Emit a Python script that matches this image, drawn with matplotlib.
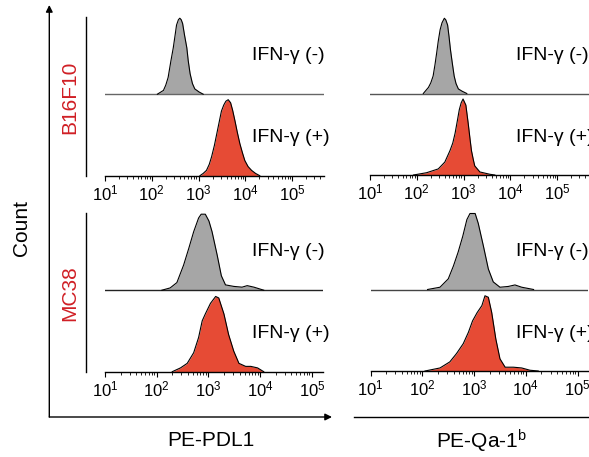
import numpy as np
import matplotlib.pyplot as plt
from matplotlib.lines import Line2D
from matplotlib.patches import FancyArrowPatch
from matplotlib.ticker import LogLocator, NullFormatter

plt.rcParams['font.family'] = ['Liberation Sans', 'DejaVu Sans']
plt.rcParams['mathtext.fontset'] = 'custom'
plt.rcParams['mathtext.rm'] = 'Liberation Sans'
plt.rcParams['mathtext.default'] = 'regular'

# histogram outlines: log10(intensity) and % of mode
b16_pdl1_neg_x = [2.12, 2.25, 2.30, 2.35, 2.41, 2.46, 2.50, 2.53, 2.57, 2.60, 2.63, 2.66,
                  2.70, 2.75, 2.78, 2.82, 2.87, 2.92, 3.01, 3.10]
b16_pdl1_neg_y = [0, 5, 12, 22, 44, 61, 78, 91, 98, 100, 98, 93, 78, 61, 44, 27, 14, 7, 3, 0]
b16_pdl1_pos_x = [3.03, 3.10, 3.17, 3.23, 3.28, 3.34, 3.39, 3.44, 3.49, 3.54, 3.585, 3.635,
                  3.686, 3.73, 3.78, 3.83, 3.885, 3.94, 3.99, 4.06, 4.135, 4.22, 4.31]
b16_pdl1_pos_y = [0, 3, 7, 15, 25, 40, 55, 70, 85, 93, 98, 100, 96, 86, 72, 57, 42, 30, 20,
                  12, 7, 3, 0]

b16_qa1_neg_x = [2.14, 2.25, 2.30, 2.35, 2.39, 2.425, 2.46, 2.50, 2.54, 2.59, 2.62, 2.66,
                 2.69, 2.72, 2.76, 2.80, 2.84, 2.89, 2.97, 3.07]
b16_qa1_neg_y = [0, 8, 14, 23, 38, 53, 69, 84, 93, 99, 97, 90, 75, 58, 40, 23, 13, 6, 3, 0]
b16_qa1_pos_x = [1.93, 2.21, 2.46, 2.60, 2.71, 2.77, 2.82, 2.87, 2.91, 2.95, 2.99, 3.05,
                 3.10, 3.14, 3.17, 3.21, 3.24, 3.35, 3.56, 3.67]
b16_qa1_pos_y = [0, 3, 8, 17, 32, 42, 55, 72, 86, 95, 100, 92, 68, 47, 32, 20, 12, 4, 1, 0]

mc38_pdl1_neg_x = [2.10, 2.26, 2.39, 2.52, 2.62, 2.715, 2.81, 2.86, 2.94, 3.01, 3.07, 3.17,
                   3.25, 3.33, 3.49, 3.65, 3.75, 3.88, 4.07]
mc38_pdl1_neg_y = [0, 3, 10, 33, 55, 77, 95, 100, 100, 91, 77, 46, 19, 7, 5, 4, 6, 4, 0]
mc38_pdl1_pos_x = [2.30, 2.46, 2.59, 2.715, 2.81, 2.88, 2.94, 3.04, 3.14, 3.20, 3.30, 3.39,
                   3.49, 3.59, 3.72, 3.82, 3.95, 4.07]
mc38_pdl1_pos_y = [0, 5, 11, 25, 45, 67, 76, 90, 99, 97, 76, 49, 27, 11, 7, 7, 5, 0]

mc38_qa1_neg_x = [2.10, 2.34, 2.50, 2.60, 2.69, 2.78, 2.86, 2.92, 3.02, 3.08, 3.18, 3.275,
                  3.37, 3.50, 3.66, 3.79, 3.92, 4.15]
mc38_qa1_neg_y = [0, 3, 14, 31, 49, 70, 92, 100, 100, 87, 57, 27, 10, 3, 4, 6, 3, 0]
mc38_qa1_pos_x = [2.05, 2.34, 2.53, 2.66, 2.79, 2.89, 2.97, 3.06, 3.15, 3.21, 3.275, 3.34,
                  3.42, 3.50, 3.60, 3.76, 3.92, 4.08, 4.24]
mc38_qa1_pos_y = [0, 4, 12, 23, 36, 51, 66, 77, 86, 99, 97, 77, 42, 16, 5, 5, 4, 1, 0]

cell_lines = ['B16F10', 'MC38']
conditions = ['IFN-γ (-)', 'IFN-γ (+)']
markers = ['PE-PDL1', 'PE-Qa-1$^\\mathrm{b}$']

W, H = 589, 457
fig = plt.figure(figsize=(W / 100, H / 100), dpi=100)


def fx(x):
    return x / W


def fy(y):
    return 1 - y / H


gray = '#a6a6a6'
red = '#e64b35'
label_red = '#d01f25'

# x0, x1, bottom (pixels), log10 of right limit, curves, baseline colour
panels = [
    (105, 324.3, 175.7, 5.69, b16_pdl1_neg_x, b16_pdl1_neg_y, b16_pdl1_pos_x, b16_pdl1_pos_y, '#666666'),
    (370, 589.3, 175.0, 5.69, b16_qa1_neg_x, b16_qa1_neg_y, b16_qa1_pos_x, b16_qa1_pos_y, '#555555'),
    (105, 322.7, 371.7, 5.21, mc38_pdl1_neg_x, mc38_pdl1_neg_y, mc38_pdl1_pos_x, mc38_pdl1_pos_y, '#222222'),
    (370.7, 588.4, 371.0, 5.21, mc38_qa1_neg_x, mc38_qa1_neg_y, mc38_qa1_pos_x, mc38_qa1_pos_y, '#444444'),
]

offset = 81.5
scale = 0.76
for x0, x1, ybot, xmax, nx, ny, px, py, base_col in panels:
    ax = fig.add_axes([fx(x0), fy(ybot), (x1 - x0) / W, 170 / H])
    ax.set_xscale('log')
    ax.set_xlim(10, 10 ** xmax)
    ax.set_ylim(0, 170)

    nx = 10 ** np.array(nx)
    ny = np.array(ny) * scale + offset
    px = 10 ** np.array(px)
    py = np.array(py) * scale

    ax.axhline(offset, color=base_col, lw=1.0)
    ax.fill_between(nx, offset, ny, color=gray, lw=0)
    ax.plot(nx, ny, color='black', lw=0.8)
    ax.fill_between(px, 0, py, color=red, lw=0)
    ax.plot(px, py, color='black', lw=0.8)

    for side in ['left', 'right', 'top']:
        ax.spines[side].set_visible(False)
    ax.spines['bottom'].set_linewidth(1.0)
    ax.set_yticks([])
    ax.xaxis.set_major_locator(LogLocator(base=10, numticks=10))
    ax.xaxis.set_minor_locator(LogLocator(base=10, subs=np.arange(2, 10), numticks=20))
    ax.xaxis.set_minor_formatter(NullFormatter())
    ax.tick_params(axis='x', which='major', length=3.6, width=0.8, pad=2, labelsize=12)
    ax.tick_params(axis='x', which='minor', length=2.2, width=0.6)
    ax.patch.set_alpha(0)

    text_x = 251.5 if x0 < 200 else 516
    fig.text(fx(text_x), fy(ybot - 120), conditions[0], fontsize=14, ha='left', va='center')
    fig.text(fx(text_x), fy(ybot - 38), conditions[1], fontsize=14, ha='left', va='center')

# left y lines of each row
for y_top, y_bot in [(17, 175.7), (213, 371.7)]:
    fig.add_artist(Line2D([fx(86), fx(86)], [fy(y_top), fy(y_bot)], color='black', lw=1.0,
                          transform=fig.transFigure))

fig.text(fx(70), fy(97), cell_lines[0], color=label_red, fontsize=15, rotation=90,
         ha='center', va='center')
fig.text(fx(70), fy(293), cell_lines[1], color=label_red, fontsize=15, rotation=90,
         ha='center', va='center')

# Count / intensity arrows
for end in [(49.3, 5), (332, 417)]:
    fig.add_artist(FancyArrowPatch((fx(49.3), fy(417)), (fx(end[0]), fy(end[1])),
                                   arrowstyle='-|>', mutation_scale=10, lw=1.0, color='black',
                                   shrinkA=0, shrinkB=0, transform=fig.transFigure))
fig.add_artist(Line2D([fx(354), fx(589)], [fy(417), fy(417)], color='black', lw=1.0,
                      transform=fig.transFigure))

fig.text(fx(21), fy(228), 'Count', fontsize=15, rotation=90, ha='center', va='center')
fig.text(fx(211), fy(441), markers[0], fontsize=15, ha='center', va='center')
fig.text(fx(481), fy(441), markers[1], fontsize=15, ha='center', va='center')

fig.savefig('out.png', dpi=100)
